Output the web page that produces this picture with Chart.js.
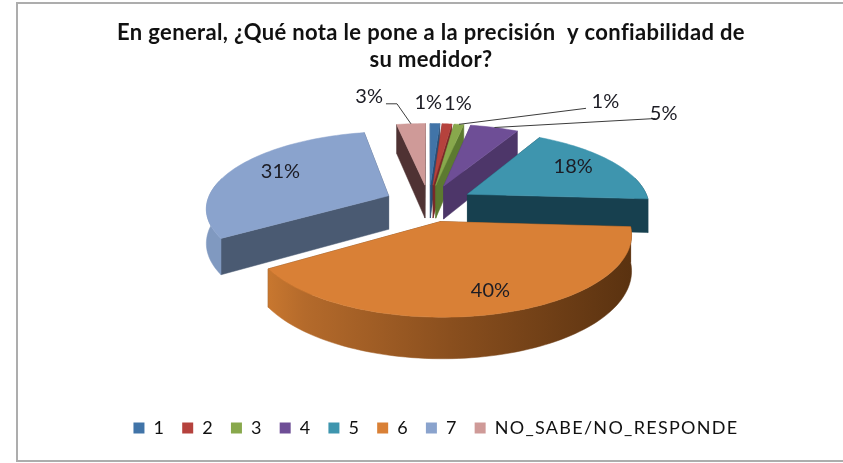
<!DOCTYPE html>
<html><head><meta charset="utf-8">
<style>html,body{margin:0;padding:0;background:#fff}canvas{display:block;filter:blur(.45px)}</style>
<script src="https://cdn.jsdelivr.net/npm/chart.js@4"></script></head>
<body><div style="width:843px;height:463px"><canvas id="c" width="843" height="463"></canvas></div>
<script>
const categories = ['1','2','3','4','5','6','7','NO_SABE/NO_RESPONDE'];
const seriesValues = [1,1,1,5,18,40,31,3];
const titleLines = ['En general, ¿Qué nota le pone a la precisión  y confiabilidad de','su medidor?'];

const topColors = ['#4174a8','#b5423d','#88a84c','#6e4e96','#3e95ae','#d98036','#8aa3cd','#cf9a98'];
const wallColors = ['#2a4d75','#7a2a28','#5c7a30','#4d3669','#17404f','#6a3c16','#4a5a72','#4f3233'];
const rimLeft = ['#2a4d75','#7a2a28','#5c7a30','#4d3669','#17404f','#c8772f','#8099c0','#4f3233'];
const rimRight = ['#2a4d75','#7a2a28','#5c7a30','#4d3669','#17404f','#5a3210','#7f96bb','#4f3233'];
const paintOrder = [7,0,1,2,3,6,4,5];

// projection of the pie plane on the page
const P = {cx:429, cy:203, k:0.415, p:0.000807, R:182, explode:44.6, depth:34};
function proj(u,v){const s=1/(1+P.p*v);return {x:P.cx+u*s,y:P.cy-P.k*v*s,s};}
function planePoint(el,a,r){
  const mid=(el.startAngle+el.endAngle)/2+Math.PI/2;
  return {u:P.explode*Math.sin(mid)+r*Math.sin(a),v:P.explode*Math.cos(mid)+r*Math.cos(a)};
}
const pt=(el,a,r)=>{const q=planePoint(el,a,r);return proj(q.u,q.v);};
function poly(ctx,pts,fill){ctx.beginPath();pts.forEach((p,i)=>i?ctx.lineTo(p.x,p.y):ctx.moveTo(p.x,p.y));ctx.closePath();ctx.fillStyle=fill;ctx.strokeStyle=fill;ctx.lineWidth=.5;ctx.fill();ctx.stroke();}
const down=q=>({x:q.x,y:q.y+P.depth*q.s});
function spaced(box,ctx,sp){
  if(box.fit){const fit=box.fit.bind(box);box.fit=function(){ctx.save();ctx.letterSpacing=sp;fit();ctx.restore();};}
  const draw=box.draw.bind(box);
  box.draw=function(a){ctx.save();ctx.letterSpacing=sp;draw(a);ctx.restore();};
}

const pie3d={
  id:'pie3d',
  start(chart){
    spaced(chart.legend,chart.ctx,'1.3px');
    spaced(chart.titleBlock,chart.ctx,'0.35px');
  },
  beforeDraw(chart){
    const c=chart.ctx;c.save();c.fillStyle='#fff';c.fillRect(0,0,843,463);
    c.strokeStyle='#adadad';c.lineWidth=2;
    c.beginPath();c.moveTo(843,3);c.lineTo(17,3);c.lineTo(17,461);c.lineTo(843,461);c.stroke();c.restore();
  },
  afterLayout(chart){
    const l=chart.legend;const w=l.right-l.left;
    l.left=legendLeft;l.right=l.left+w;
  },
  beforeDatasetsDraw(chart){
    const ctx=chart.ctx,arcs=chart.getDatasetMeta(0).data;
    ctx.save();
    paintOrder.forEach(i=>{
      const el=arcs[i].getProps(['startAngle','endAngle'],true);
      const a0=el.startAngle+Math.PI/2,a1=el.endAngle+Math.PI/2;
      const n=Math.max(4,Math.ceil((a1-a0)/0.03));
      const apex=pt(el,0,0);
      const rim=[];const front=[];
      for(let j=0;j<=n;j++){
        const a=a0+(a1-a0)*j/n;const q=pt(el,a,P.R);rim.push(q);
        if(Math.cos(a)<0.25)front.push(q);
      }
      // radial walls
      [rim[0],rim[n]].forEach(e=>poly(ctx,[apex,e,down(e),down(apex)],wallColors[i]));
      // outer wall
      if(front.length>1){
        const xs=rim.map(r=>r.x);const gr=ctx.createLinearGradient(Math.min(...xs),0,Math.max(...xs),0);
        gr.addColorStop(0,rimLeft[i]);
        gr.addColorStop(.1,i===5?'#b46a2b':rimLeft[i]);
        gr.addColorStop(.5,i===5?'#8a4f1e':rimRight[i]);
        gr.addColorStop(1,rimRight[i]);
        poly(ctx,[...front,...front.slice().reverse().map(down)],gr);
      }
      // top
      poly(ctx,[apex,...rim],topColors[i]);
    });
    // leader lines
    ctx.strokeStyle='#3c3c3c';ctx.lineWidth=1;
    leaders.forEach(L=>{
      const el=arcs[L.i].getProps(['startAngle','endAngle'],true);
      const a=(el.startAngle+el.endAngle)/2+Math.PI/2;
      const s=pt(el,a,P.R*L.f);
      ctx.beginPath();ctx.moveTo(s.x,s.y);ctx.lineTo(s.x+L.d[0],s.y+L.d[1]);
      if(L.e)ctx.lineTo(s.x+L.d[0]+L.e,s.y+L.d[1]);
      ctx.stroke();
    });
    // value labels
    ctx.font='20px Lato';ctx.textAlign='center';ctx.textBaseline='middle';ctx.fillStyle='#1c1c24';
    seriesValues.forEach((v,i)=>{
      const el=arcs[i].getProps(['startAngle','endAngle'],true);
      const a=(el.startAngle+el.endAngle)/2+Math.PI/2;
      const b=pt(el,a,P.R*.6);
      ctx.fillText(v+'%',b.x+labelShift[i][0],b.y+labelShift[i][1]);
    });
    ctx.restore();
    return false;
  }
};
const legendLeft=24;
const labelShift=[[-5,-44],[16,-43],[155,-45],[188,-36],[17,-7],[18,17],[-14,-7],[-47,-50]];
const leaders=[{i:2,f:1,d:[127,-16]},{i:3,f:1,d:[161,-9]},{i:7,f:1,d:[-14,-20],e:-11}];

new Chart(document.getElementById('c'),{
  type:'pie',
  plugins:[pie3d],
  data:{labels:categories,datasets:[{data:seriesValues,backgroundColor:topColors,borderWidth:0}]},
  options:{
    responsive:false,animation:false,
    layout:{padding:{left:19,bottom:16,top:0,right:0}},
    plugins:{
      tooltip:{enabled:false},
      title:{display:true,text:titleLines,color:'#111',font:{family:'Lato',size:22,weight:'bold',lineHeight:1.23},padding:{top:19,bottom:0}},
      legend:{position:'bottom',labels:{boxWidth:11,boxHeight:11,padding:17,color:'#111',font:{family:'Lato',size:18}}}
    }
  }
});
</script></body></html>
